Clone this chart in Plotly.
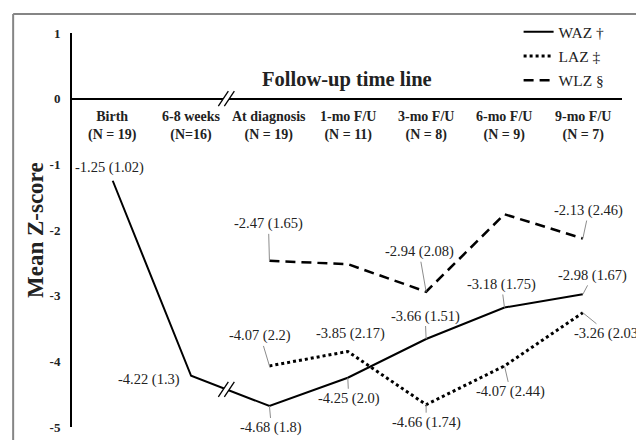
import plotly.graph_objects as go

# ---------------- data ----------------
categories = ["Birth", "6-8 weeks", "At diagnosis", "1-mo F/U", "3-mo F/U", "6-mo F/U", "9-mo F/U"]
n_labels = ["(N = 19)", "(N=16)", "(N = 19)", "(N = 11)", "(N = 8)", "(N = 9)", "(N = 7)"]

waz = [-1.25, -4.22, -4.68, -4.25, -3.66, -3.18, -2.98]
waz_sd = ["1.02", "1.3", "1.8", "2.0", "1.51", "1.75", "1.67"]

laz = [None, None, -4.07, -3.85, -4.66, -4.07, -3.26]
laz_sd = [None, None, "2.2", "2.17", "1.74", "2.44", "2.03"]

wlz = [None, None, -2.47, -2.52, -2.94, -1.76, -2.13]
wlz_sd = [None, None, "1.65", None, "2.08", None, "2.46"]

series_names = ["WAZ †", "LAZ ‡", "WLZ §"]
y_ticks = [1, 0, -1, -2, -3, -4, -5]

# ---------------- styling ----------------
FONT = "Liberation Serif"
xs = list(range(len(categories)))

# label offsets (pixels) and leader flag per point
waz_off = [(-3, -13, False), (-42, 4, False), (2, 22, True), (1, 21, True),
           (-1, -23, True), (-3, -23, True), (10, -19, True)]
laz_off = [None, None, (-9, -30, True), (3, -18, False), (0, 18, True),
           (6, 26, True), (26, 21, True)]
wlz_off = [None, None, (-1, -37, True), None, (-7, -40, True), None, (6, -28, True)]

fig = go.Figure()

fig.add_trace(go.Scatter(x=xs, y=waz, mode="lines", name=series_names[0],
                         line=dict(color="black", width=2), legendgroup="a"))
fig.add_trace(go.Scatter(x=xs, y=laz, mode="lines", name=series_names[1],
                         line=dict(color="black", width=3, dash="3px,3px"), legendgroup="b"))
fig.add_trace(go.Scatter(x=xs, y=wlz, mode="lines", name=series_names[2],
                         line=dict(color="black", width=2.5, dash="10px,6px"), legendgroup="c"))

annotations = []

def add_labels(vals, sds, offs):
    for i, (v, s, o) in enumerate(zip(vals, sds, offs)):
        if v is None or s is None or o is None:
            continue
        ax, ay, leader = o
        annotations.append(dict(
            x=xs[i], y=v, xref="x", yref="y",
            text=f"{v:.2f} ({s})", showarrow=True, ax=ax, ay=ay,
            arrowhead=0, arrowwidth=1, standoff=0,
            arrowcolor="#8c8c8c" if leader else "rgba(0,0,0,0)",
            font=dict(family=FONT, size=14.5, color="#222"),
        ))

add_labels(waz, waz_sd, waz_off)
add_labels(laz, laz_sd, laz_off)
add_labels(wlz, wlz_sd, wlz_off)

# category labels under the zero line
for i, (c, n) in enumerate(zip(categories, n_labels)):
    annotations.append(dict(
        x=xs[i], y=0, xref="x", yref="y", yanchor="top", yshift=-8,
        text=f"<b>{c}</b><br><b>{n}</b>", showarrow=False,
        font=dict(family=FONT, size=14, color="#222"),
    ))

# title inside the plot
annotations.append(dict(
    x=0.5, y=0.883, xref="paper", yref="paper", xanchor="center", yanchor="middle",
    text="<b>Follow-up time line</b>", showarrow=False,
    font=dict(family=FONT, size=20.5, color="#222"),
))

# y-axis title
annotations.append(dict(
    x=0, y=-2, xref="paper", yref="y", xanchor="center", yanchor="middle",
    xshift=-37, textangle=-90, text="<b>Mean Z-score</b>", showarrow=False,
    font=dict(family=FONT, size=23, color="#222"),
))

shapes = []
# gray frame (top and left borders)
shapes.append(dict(type="line", xref="paper", yref="paper", x0=-0.107, x1=1.2,
                   y0=1.048, y1=1.048, line=dict(color="#858585", width=2)))
shapes.append(dict(type="line", xref="paper", yref="paper", x0=-0.107, x1=-0.107,
                   y0=1.048, y1=-0.2, line=dict(color="#858585", width=2)))

# axis breaks
break_x = 1.45
waz_break_y = waz[1] + (waz[2] - waz[1]) * (break_x - 1)
for by in (0, waz_break_y):
    shapes.append(dict(type="path", xref="x", yref="y", xsizemode="pixel", ysizemode="pixel",
                       xanchor=break_x, yanchor=by,
                       path="M -8,-7.5 L 2,7.5 L 8,7.5 L -2,-7.5 Z",
                       fillcolor="white", line=dict(width=0)))
    for dx in (-3, 3):
        shapes.append(dict(type="line", xref="x", yref="y", xsizemode="pixel", ysizemode="pixel",
                           xanchor=break_x, yanchor=by,
                           x0=dx - 5, y0=-7.5, x1=dx + 5, y1=7.5,
                           line=dict(color="black", width=1.3)))

fig.update_layout(
    width=636, height=432,
    margin=dict(l=64, r=22, t=25, b=13, autoexpand=False),
    paper_bgcolor="white", plot_bgcolor="white",
    showlegend=True,
    legend=dict(x=0.812, y=1.045, xanchor="left", yanchor="top",
                font=dict(family=FONT, size=15.5, color="#222"),
                traceorder="grouped", tracegroupgap=1,
                bgcolor="rgba(0,0,0,0)", borderwidth=0),
    annotations=annotations, shapes=shapes,
    xaxis=dict(range=[-0.52, 6.5], showticklabels=False, showgrid=False,
               zeroline=False, showline=False, ticks=""),
    yaxis=dict(range=[-5, 1], tickvals=y_ticks, ticktext=[f"<b>{t}</b>" for t in y_ticks],
               showgrid=False, zeroline=True, zerolinecolor="black", zerolinewidth=2,
               showline=True, linecolor="black", linewidth=2, ticks="",
               ticklabelstandoff=7,
               tickfont=dict(family=FONT, size=13, color="#222")),
)

fig.write_html("out.html")
